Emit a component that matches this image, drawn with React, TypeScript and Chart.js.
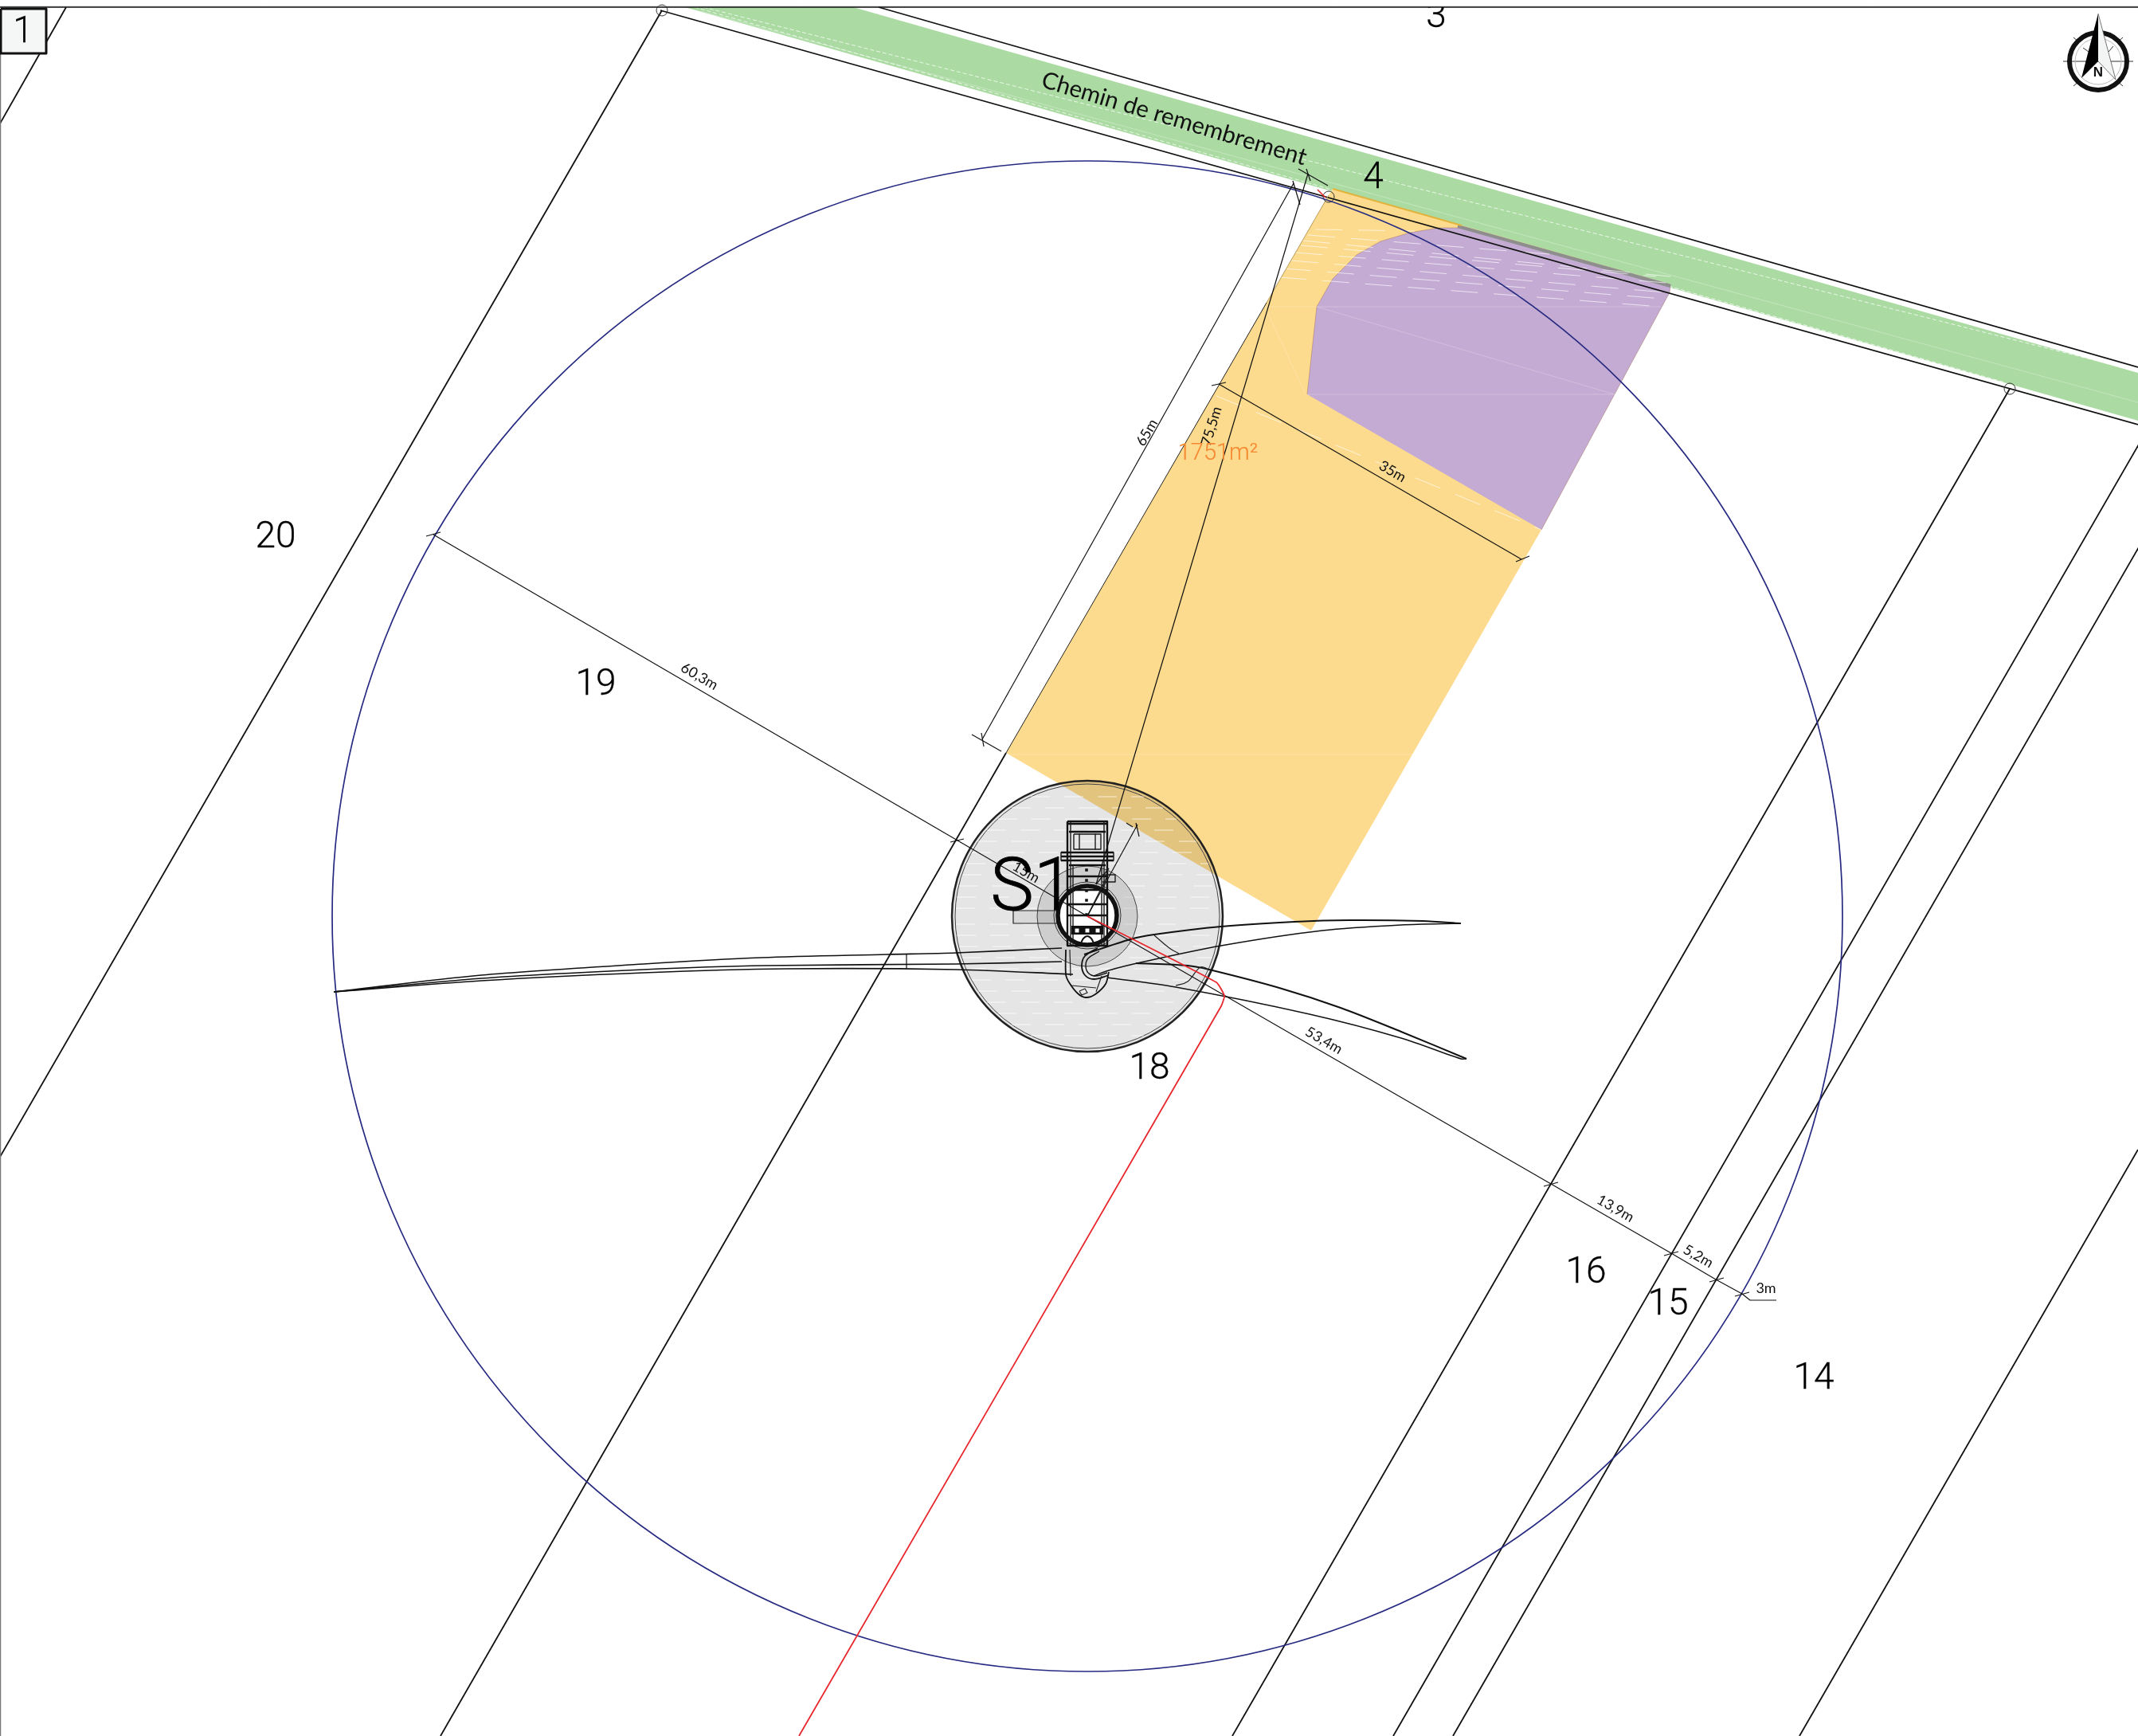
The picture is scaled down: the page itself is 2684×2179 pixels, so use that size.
import React, { useEffect, useRef } from "react";
import { Chart, registerables } from "chart.js";

Chart.register(...registerables);

type P = number[];
const WIDTH = 2684;
const HEIGHT = 2179;

// ---- plan geometry (plan units = reference pixels) ----
const greenBand: P[] = [[1071, 9], [2684, 468], [2684, 528], [860, 9]];
const greenDashes: P[][] = [
  [[883, 9], [2684, 466]],
  [[872, 9], [2517, 480]],
];
const greenFaint: P[] = [[880, 14], [2684, 505]];
const orangePlot: P[] = [[1668, 245], [1673, 237], [2097, 357], [1935, 665], [1646, 1168], [1263, 945]];
const purpleZone: P[] = [
  [1641, 495], [1653, 385], [1673, 350], [1703, 320], [1733, 303], [1770, 292], [1806, 286], [1842, 286],
  [2097, 357], [2096, 367], [1935, 665],
];
const grayStrip: P[] = [[1830, 284], [2097, 359]];
const goldStrip: P[] = [[1673, 237], [1835, 283]];
const plotFaintLines: P[][] = [
  [[1588, 385], [2085, 385]],
  [[1641, 495], [2027, 495]],
  [[1588, 385], [1639, 495]],
  [[1653, 385], [2027, 495]],
  [[1263, 947], [1780, 947]],
];
const plotDashes: P[][] = [
  [[1651, 288], [1776, 290]],
  [[1642, 295], [1958, 320]],
  [[1636, 302], [2097, 347]],
  [[1633, 308], [2079, 347]],
  [[1627, 317], [2091, 355]],
  [[1621, 327], [2091, 367]],
  [[1612, 337], [2088, 375]],
  [[1606, 348], [2085, 385]],
  [[1527, 497], [1935, 665]],
];

const parcelLines: P[][] = [
  [[83, 9], [0, 155]],
  [[831, 13], [0, 1452]],
  [[1263, 945], [553, 2179]],
  [[2523, 488], [1547, 2179]],
  [[2686, 556], [1749, 2179]],
  [[2686, 685], [1824, 2179]],
  [[2684, 1443], [2259, 2179]],
  [[829, 13], [2684, 533]],
  [[1103, 9], [2684, 461]],
];
const plotEdgeDark: P[] = [[1263, 945], [1590, 380]];
const plotEdgeSoft: P[] = [[1590, 380], [1668, 245]];
const parcelMarkers: P[] = [[831, 13], [1668, 247], [2523, 488]];
const turbineCentre: P[] = [[1365, 1150]];

const dimensionLines: P[][] = [
  [[1233, 928], [1624, 230]],
  [[1642, 218], [1390, 1063], [1376, 1110]],
  [[1530, 482], [1910, 702]],
  [[544, 671], [1365, 1150]],
  [[1365, 1150], [1947, 1486], [2098, 1573], [2154, 1606], [2187, 1624], [2197, 1632], [2230, 1632]],
  [[1365, 1150], [1428, 1035]],
];
const dimensionTicks: P[][] = [
  [[1220, 922], [1257, 943]],
  [[1232, 920], [1235, 937]],
  [[1623, 227], [1632, 257]],
  [[1630, 212], [1667, 233]],
  [[1640, 212], [1645, 227]],
  [[1521, 484], [1539, 480]],
  [[1903, 705], [1920, 698]],
  [[535, 673], [553, 668]],
  [[1193, 1057], [1210, 1053]],
  [[1938, 1489], [1956, 1484]],
  [[2089, 1576], [2107, 1571]],
  [[2146, 1609], [2164, 1604]],
  [[2178, 1627], [2196, 1622]],
  [[1414, 1033], [1422, 1038]],
  [[1426, 1033], [1430, 1050]],
];

const bladeLeftTop: P[] = [[419, 1245], [604, 1224], [808, 1210], [956, 1202], [1114, 1198], [1200, 1196], [1333, 1190]];
const bladeLeftMid: P[] = [[419, 1245], [604, 1228], [808, 1217], [961, 1212], [1200, 1210], [1333, 1207]];
const bladeLeftLow: P[] = [[419, 1245], [604, 1231], [808, 1221], [987, 1216], [1200, 1217], [1347, 1223]];
const bladeLeftRib: P[] = [[1138, 1198], [1138, 1216]];
const bladeRightTop: P[] = [[1361, 1198], [1419, 1179], [1449, 1173], [1533, 1163], [1625, 1157], [1694, 1155], [1786, 1156], [1834, 1159]];
const bladeRightLow: P[] = [[1373, 1225], [1392, 1218], [1432, 1208], [1533, 1187], [1660, 1168], [1759, 1161], [1834, 1159]];
const bladeLowerTop: P[] = [[1426, 1209], [1491, 1212], [1518, 1217], [1606, 1240], [1683, 1265], [1759, 1295], [1841, 1329]];
const bladeLowerLow: P[] = [[1390, 1227], [1476, 1239], [1644, 1273], [1759, 1303], [1834, 1329], [1841, 1329]];
const bladeWaves: P[][] = [
  [[1449, 1174], [1468, 1190], [1480, 1197]],
  [[1476, 1237], [1491, 1232], [1507, 1214], [1518, 1217]],
];

const redCable: P[] = [[1365, 1150], [1527, 1233], [1537, 1250], [1533, 1263], [1003, 2179]];
const redNick: P[] = [[1654, 238], [1664, 248]];

const discRows: number[][] = [
  [1000, 71], [1014, 95], [1028, 112], [1042, 126], [1056, 137], [1070, 145], [1084, 152], [1098, 157],
  [1112, 161], [1126, 164], [1140, 165], [1160, 165], [1174, 164], [1188, 161], [1202, 157], [1216, 152],
  [1230, 145], [1244, 137], [1258, 126], [1272, 112], [1286, 95], [1300, 71],
];

const nacelleOutline: P[] = [[1340, 1031], [1390, 1031], [1390, 1187], [1340, 1187], [1340, 1031]];
const nacelleBars: P[][] = [
  [[1340, 1034], [1390, 1034]],
  [[1342, 1044], [1388, 1044]],
  [[1332, 1070], [1398, 1070]],
  [[1332, 1075], [1398, 1075]],
  [[1332, 1080], [1398, 1080]],
  [[1342, 1086], [1388, 1086]],
  [[1340, 1100], [1390, 1100]],
  [[1340, 1117], [1390, 1117]],
  [[1340, 1135], [1390, 1135]],
  [[1340, 1149], [1390, 1149]],
];
const nacelleThin: P[][] = [
  [[1348, 1047], [1382, 1047], [1382, 1066], [1348, 1066], [1348, 1047]],
  [[1355, 1047], [1355, 1066]],
  [[1375, 1047], [1375, 1066]],
  [[1332, 1070], [1332, 1080]],
  [[1398, 1070], [1398, 1080]],
  [[1344, 1031], [1344, 1187]],
  [[1347, 1086], [1347, 1187]],
  [[1383, 1086], [1383, 1187]],
  [[1386, 1031], [1386, 1187]],
  [[1384, 1098], [1400, 1098], [1400, 1107], [1384, 1107]],
  [[1376, 1110], [1392, 1090]],
  [[1365, 1150], [1390, 1100]],
];
const nacelleStrip: P[] = [[1345, 1162], [1385, 1162], [1385, 1173], [1345, 1173]];
const stripGlyphs: P[] = [[1352, 1168], [1365, 1168], [1378, 1168]];
const nacelleDots: P[] = [[1364, 1092], [1364, 1105], [1364, 1118], [1364, 1130], [1364, 1148]];
const archHump: P[] = [[1357, 1184], [1360, 1178], [1365, 1175], [1370, 1178], [1373, 1184]];
const serviceTab: P[] = [[1272, 1143], [1327, 1143], [1327, 1159], [1272, 1159]];
const rootRingOuter: P[] = [[1378, 1190], [1362, 1200], [1358, 1212], [1362, 1224], [1373, 1229], [1392, 1224]];
const rootRingInner: P[] = [[1380, 1194], [1366, 1203], [1363, 1212], [1366, 1221], [1375, 1225], [1390, 1221]];
const hubNose: P[] = [[1338, 1192], [1338, 1223], [1342, 1233], [1353, 1247], [1363, 1252], [1375, 1248], [1388, 1235], [1392, 1220]];
const hubLines: P[][] = [
  [[1383, 1225], [1376, 1245]],
  [[1343, 1192], [1344, 1225]],
  [[1345, 1237], [1376, 1240]],
  [[1355, 1244], [1362, 1241], [1365, 1246], [1358, 1249], [1355, 1244]],
];

const compassCross: P[][] = [
  [[2590, 77], [2678, 77]],
  [[2603, 47], [2610, 53]],
  [[2615, 60], [2622, 65]],
  [[2665, 47], [2658, 53]],
  [[2653, 58], [2647, 65]],
  [[2603, 108], [2610, 102]],
  [[2665, 108], [2658, 102]],
];
const compassBlack: P[] = [[2634, 17], [2613, 98], [2634, 77]];
const compassWhite: P[] = [[2634, 17], [2656, 100], [2634, 77]];
const compassCentre: P[] = [[2634, 77]];

const frameTop: P[] = [[0, 9], [2684, 9]];
const frameHair: P[] = [[0, 8], [2684, 8]];
const frameLeft: P[] = [[0.5, 68], [0.5, 2179]];
const sheetBox: P[] = [[1, 11], [58, 11], [58, 67], [1, 67]];

const parcelTexts = ["1", "3", "4", "20", "19", "18", "16", "15", "14"];
const parcelTextAt: P[] = [[29, 41], [1803, 22], [1724, 224], [346, 675], [748, 860], [1443, 1342], [1991, 1598], [2094, 1638], [2277, 1731]];
const dimensionTexts = ["65m", "75,5m", "35m", "60,3m", "53,4m", "13,9m", "5,2m", "3m", "15m"];
const dimensionTextAt: P[] = [[1440, 543], [1521, 535], [1748, 592], [878, 849], [1662, 1306], [2028, 1517], [2132, 1577], [2217, 1617], [1288, 1095]];
const dimensionAngles = [-60, -73, 30, 30, 30, 30, 30, 0, 30];
const turbineName = "S1";
const turbineNameAt: P = [1296, 1119];
const roadName = "Chemin de remembrement";
const roadNameAt: P = [1474, 149];
const areaText = "1751m²";
const areaTextAt: P = [1529, 570];
const northLetter = "N";
const northLetterAt: P = [2634, 91];

const INK = "#111111";
const pts = (a: P[]) => a.map(([x, y]) => ({ x, y }));
const stroke = (a: P[], color: string, width: number, extra: object = {}) => ({
  data: pts(a), showLine: true, pointRadius: 0, borderColor: color, borderWidth: width,
  backgroundColor: "transparent", fill: false, tension: 0, borderJoinStyle: "round", ...extra,
});
const shape = (a: P[], color: string) => ({
  data: pts([...a, a[0]]), showLine: true, pointRadius: 0, borderColor: "rgba(0,0,0,0)", borderWidth: 1,
  backgroundColor: color, fill: "shape", tension: 0,
});
const dot = (a: P[], r: number, fillCol: string, line: string, w: number, style = "circle") => ({
  data: pts(a), showLine: false, pointRadius: r, pointStyle: style, pointBackgroundColor: fillCol,
  pointBorderColor: line, pointBorderWidth: w,
});

function layers() {
  const wash = "rgba(255,255,255,0.22)";
  const out: any[] = [
    shape(greenBand, "#abdba3"),
    ...greenDashes.map((l) => stroke(l, "rgba(255,255,255,0.75)", 1, { borderDash: [5, 3] })),
    stroke(greenFaint, "rgba(255,255,255,0.3)", 1),
    shape(orangePlot, "#fddb8e"),
    shape(purpleZone, "#c4abd3"),
    stroke(purpleZone, "rgba(170,120,110,0.55)", 1),
    stroke(grayStrip, "#8e8e8e", 4),
    stroke(goldStrip, "#e2b33c", 2),
    ...plotFaintLines.map((l) => stroke(l, wash, 1)),
    ...plotDashes.map((l) => stroke(l, "rgba(255,255,255,0.65)", 1, { borderDash: [34, 20] })),
    dot(turbineCentre, 170, "rgba(0,0,0,0.1)", "#222222", 2.5),
    dot(turbineCentre, 166, "rgba(0,0,0,0)", "#444444", 1),
    ...discRows.map(([y, h]) =>
      stroke([[1365 - h, y], [1365 + h, y]], "rgba(255,255,255,0.7)", 1, { borderDash: [24, 18] })),
    dot(turbineCentre, 63, "rgba(0,0,0,0.1)", "#444444", 1),
    ...parcelLines.map((l) => stroke(l, INK, 1.8)),
    stroke(plotEdgeDark, "#222222", 1),
    stroke(plotEdgeSoft, "#b79a5c", 1),
    dot(parcelMarkers, 7, "rgba(0,0,0,0)", "#333333", 1),
    dot(turbineCentre, 948, "rgba(0,0,0,0)", "#262a80", 1.7),
    stroke(redNick, "#e8262c", 1.5),
    shape(serviceTab, "rgba(0,0,0,0.06)"),
    stroke([...serviceTab, serviceTab[0]], "#222222", 1.2),
    dot([[1365, 1149]], 42, "rgba(0,0,0,0)", "#333333", 1),
    dot([[1365, 1149]], 37, "#ffffff", "#111111", 5.5),
    stroke(nacelleOutline, "#111111", 2.4),
    ...nacelleBars.map((l) => stroke(l, "#111111", 2.4)),
    ...nacelleThin.map((l) => stroke(l, "#1a1a1a", 1.4)),
    shape(nacelleStrip, "#111111"),
    dot(stripGlyphs, 3.5, "#ffffff", "#ffffff", 0, "rect"),
    dot(nacelleDots, 2.5, "#111111", "#111111", 0, "rect"),
    stroke(archHump, "#111111", 2, { tension: 0.4 }),
    ...dimensionLines.map((l) => stroke(l, "#111111", 1.2)),
    ...dimensionTicks.map((l) => stroke(l, "#111111", 1.2)),
    stroke(bladeLeftTop, INK, 1.6, { tension: 0.3 }),
    stroke(bladeLeftMid, INK, 1.6, { tension: 0.3 }),
    stroke(bladeLeftLow, INK, 1.6, { tension: 0.3 }),
    stroke(bladeLeftRib, INK, 1.2),
    stroke(bladeRightTop, INK, 2, { tension: 0.3 }),
    stroke(bladeRightLow, INK, 1.4, { tension: 0.3 }),
    stroke(bladeLowerTop, INK, 2, { tension: 0.3 }),
    stroke(bladeLowerLow, INK, 1.4, { tension: 0.3 }),
    ...bladeWaves.map((l) => stroke(l, "#222222", 1.2, { tension: 0.4 })),
    stroke(rootRingOuter, INK, 1.8, { tension: 0.4 }),
    stroke(rootRingInner, INK, 1.4, { tension: 0.4 }),
    stroke(hubNose, INK, 1.8, { tension: 0.3 }),
    ...hubLines.map((l) => stroke(l, "#222222", 1.2)),
    stroke(redCable, "#e8262c", 1.8, { tension: 0.15 }),
    stroke(frameHair, "#bdbdbd", 1),
    stroke(frameTop, "#111111", 1.6),
    stroke(frameLeft, "#777777", 1.5),
    shape(sheetBox, "#f5f7f6"),
    stroke([...sheetBox, sheetBox[0]], "#111111", 3),
    ...compassCross.map((l) => stroke(l, "#333333", 1)),
    dot(compassCentre, 36, "rgba(0,0,0,0)", "#111111", 6),
    dot(compassCentre, 29, "rgba(0,0,0,0)", "#bbbbbb", 1),
    shape(compassBlack, "#000000"),
    shape(compassWhite, "#f3f4f4"),
    stroke([...compassWhite], "#555555", 0.8),
  ];
  return out.reverse();
}

const labelPlugin = {
  id: "planLabels",
  afterDatasetsDraw(chart: any) {
    const { ctx, scales } = chart;
    const put = (text: string, at: P, font: string, color: string, deg = 0, bolden = 0) => {
      ctx.save();
      ctx.translate(scales.x.getPixelForValue(at[0]), scales.y.getPixelForValue(at[1]));
      ctx.rotate((deg * Math.PI) / 180);
      ctx.font = font;
      ctx.fillStyle = color;
      ctx.textAlign = "center";
      ctx.textBaseline = "middle";
      ctx.fillText(text, 0, 0);
      if (bolden > 0) {
        ctx.strokeStyle = color;
        ctx.lineWidth = bolden;
        ctx.strokeText(text, 0, 0);
      }
      ctx.restore();
    };
    ctx.save();
    ctx.beginPath();
    ctx.rect(0, 9, WIDTH, HEIGHT);
    ctx.clip();
    parcelTexts.forEach((t, i) => put(t, parcelTextAt[i], "300 46px Roboto", "#000000", 0, 0.3));
    dimensionTexts.forEach((t, i) =>
      put(t, dimensionTextAt[i], "400 18px Lato", "#111111", dimensionAngles[i]));
    put(turbineName, turbineNameAt, "300 92px Roboto", "#000000", 0, 0.8);
    put(roadName, roadNameAt, "400 29.5px Lato", "#111111", 16.6);
    put(areaText, areaTextAt, "300 29px Roboto", "#f58a33", 0, 0.2);
    put(northLetter, northLetterAt, "700 17px 'Liberation Sans'", "#111111");
    ctx.restore();
  },
};

export default function App() {
  const ref = useRef<HTMLCanvasElement>(null);
  useEffect(() => {
    document.body.style.margin = "0";
    const chart = new Chart(ref.current as HTMLCanvasElement, {
      type: "scatter",
      data: { datasets: layers() },
      plugins: [labelPlugin],
      options: {
        animation: false,
        responsive: false,
        events: [],
        layout: { padding: 0, autoPadding: false },
        plugins: { legend: { display: false }, tooltip: { enabled: false } },
        scales: {
          x: { type: "linear", min: 0, max: WIDTH, display: false },
          y: { type: "linear", min: 0, max: HEIGHT, reverse: true, display: false },
        },
      },
    } as any);
    return () => chart.destroy();
  }, []);
  return <canvas ref={ref} width={WIDTH} height={HEIGHT} style={{ display: "block" }} />;
}
